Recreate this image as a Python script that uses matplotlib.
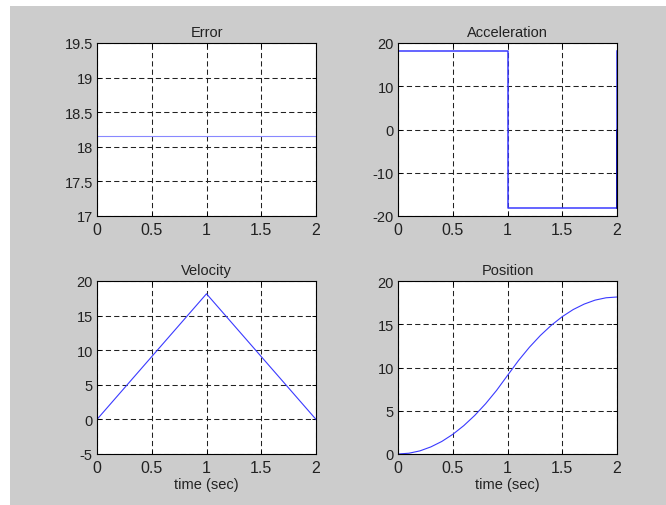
import numpy as np
import matplotlib
matplotlib.use('Agg')
import matplotlib.pyplot as plt
from matplotlib.patches import Rectangle

plt.rcParams['font.family'] = ['Liberation Sans', 'DejaVu Sans']

# data
t_err = [0.0, 2.0]
err = [18.15, 18.15]

t_acc = [0.0, 1.0, 1.0, 2.0, 2.0]
acc = [18.15, 18.15, -18.15, -18.15, 18.15]
t_acc_end = [2.0, 2.0]
acc_end = [-18.15, 0.0]

t_vel = [0.0, 1.0, 2.0]
vel = [0.0, 18.15, 0.0]

t_pos = [0.0, 0.1, 0.2, 0.3, 0.4, 0.5, 0.6, 0.7, 0.8, 0.9, 1.0,
         1.1, 1.2, 1.3, 1.4, 1.5, 1.6, 1.7, 1.8, 1.9, 2.0]
pos = [0.0, 0.09, 0.36, 0.82, 1.45, 2.27, 3.27, 4.45, 5.81, 7.35, 9.08,
       10.80, 12.34, 13.70, 14.88, 15.88, 16.70, 17.33, 17.79, 18.06, 18.15]

xticks = [0, 0.5, 1, 1.5, 2]
xtick_labels = ['0', '0.5', '1', '1.5', '2']
err_ticks = [17, 17.5, 18, 18.5, 19, 19.5]
err_labels = ['17', '17.5', '18', '18.5', '19', '19.5']
acc_ticks = [-20, -10, 0, 10, 20]
acc_labels = ['-20', '-10', '0', '10', '20']
vel_ticks = [-5, 0, 5, 10, 15, 20]
vel_labels = ['-5', '0', '5', '10', '15', '20']
pos_ticks = [0, 5, 10, 15, 20]
pos_labels = ['0', '5', '10', '15', '20']

W, H = 666, 506
fig = plt.figure(figsize=(W/100, H/100), dpi=100)
fig.patch.set_facecolor('white')
fig.patches.append(Rectangle((10/W, 0), 1 - 10/W, 1 - 7/H, transform=fig.transFigure,
                             facecolor='#cccccc', edgecolor='none', zorder=-10))

def box(l, t, r, b):
    return [l/W, 1 - b/H, (r - l)/W, (b - t)/H]

ax_err = fig.add_axes(box(97, 44, 316, 217))
ax_acc = fig.add_axes(box(398, 44, 617, 217))
ax_vel = fig.add_axes(box(97, 282, 316, 455))
ax_pos = fig.add_axes(box(398, 282, 617, 455))

ax_err.plot(t_err, err, color='#8888ff', lw=0.8)
ax_acc.plot(t_acc, acc, color='#3a3aff', lw=1.1)
ax_acc.plot(t_acc_end, acc_end, color='#0000a0', lw=1.1)
ax_vel.plot(t_vel, vel, color='#3a3aff', lw=0.8)
ax_pos.plot(t_pos, pos, color='#3a3aff', lw=0.8)

setup = [
    (ax_err, 'Error', (17, 19.5), err_ticks, err_labels, False),
    (ax_acc, 'Acceleration', (-20, 20), acc_ticks, acc_labels, False),
    (ax_vel, 'Velocity', (-5, 20), vel_ticks, vel_labels, True),
    (ax_pos, 'Position', (0, 20), pos_ticks, pos_labels, True),
]
for ax, title, ylim, yt, yl, xlab in setup:
    ax.set_facecolor('white')
    ax.set_xlim(0, 2)
    ax.set_ylim(*ylim)
    ax.set_xticks(xticks, xtick_labels, fontsize=11.5)
    ax.set_yticks(yt, yl, fontsize=10.5)
    ax.tick_params(direction='in', length=3, width=0.7, top=True, right=True,
                   colors='black', labelcolor='#222222')
    ax.tick_params(axis='x', pad=4)
    ax.tick_params(axis='y', pad=3)
    ax.grid(True, color='#222222', linestyle=(0, (5, 3)), linewidth=0.75)
    for s in ax.spines.values():
        s.set_linewidth(0.8)
        s.set_color('black')
    ax.set_title(title, fontsize=10.5, pad=5, color='#222222')
    if xlab:
        ax.set_xlabel('time (sec)', fontsize=10.5, labelpad=2, color='#222222')

fig.savefig('out.png', dpi=100, facecolor=fig.get_facecolor())
